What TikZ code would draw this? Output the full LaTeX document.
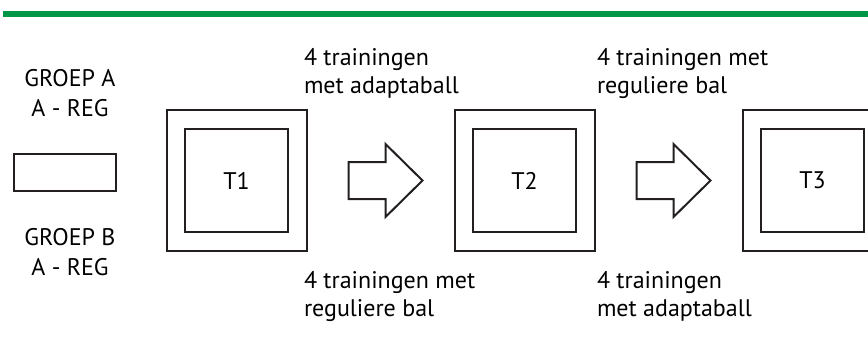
\documentclass[tikz,border=0pt]{standalone}
\usepackage{fontspec}
\setmainfont{PT Sans}
\usetikzlibrary{positioning}
\definecolor{balkgroen}{RGB}{0,150,72}
\definecolor{lijn}{RGB}{35,31,32}

\begin{document}
\begin{tikzpicture}[x=0.5pt, y=-0.5pt, line width=1pt,
  kader/.style={draw=lijn, minimum width=70pt, minimum height=70.5pt, inner sep=0pt},
  meting/.style={draw=lijn, minimum size=51.5pt, inner sep=0pt},
  tekst/.style={align=left, anchor=north west, inner sep=0pt},
  groep/.style={align=center, anchor=north, inner sep=0pt,
    font=\fontsize{12}{15}\selectfont},
  font=\fontsize{12}{14}\selectfont]
  \useasboundingbox (0,0) rectangle (868,350);
  % groene balk
  \fill[balkgroen] (3,11) rectangle (868,16.5);
  % groepen
  \node [groep] (groepa) at (70,68) {GROEP A\\A - REG};
  \node [draw=lijn, minimum width=51pt, minimum height=18.5pt] (groepvak) at (65,172.5) {};
  \node [groep] (groepb) at (70,227) {GROEP B\\A - REG};
  % metingen
  \node [meting] (t1) at (236.5,180.5) {T1};
  \node [meting, right=91.5pt of t1] (t2) {T2};
  \node [meting, right=91.5pt of t2] (t3) {T3};
  \foreach \t in {t1,t2,t3}
    \node [kader] (k\t) at (\t) {};
  % pijlen
  \foreach \k in {kt1,kt2}
    \draw [lijn] ([xshift=20.5pt, yshift=9.25pt]\k.east) coordinate (p\k)
      -- ++(37,0) -- ++(0,-18) -- ++(37,36.5) -- ++(-37,36.5)
      -- ++(0,-18) -- ++(-37,0) -- cycle;
  % trainingen
  \node [tekst] (boven1) at (303,47) {4 trainingen\\met adaptaball};
  \node [tekst] (onder1) at (303,270) {4 trainingen met\\reguliere bal};
  \node [tekst] (boven2) at (596,47) {4 trainingen met\\reguliere bal};
  \node [tekst] (onder2) at (596,270) {4 trainingen\\met adaptaball};
\end{tikzpicture}
\end{document}
